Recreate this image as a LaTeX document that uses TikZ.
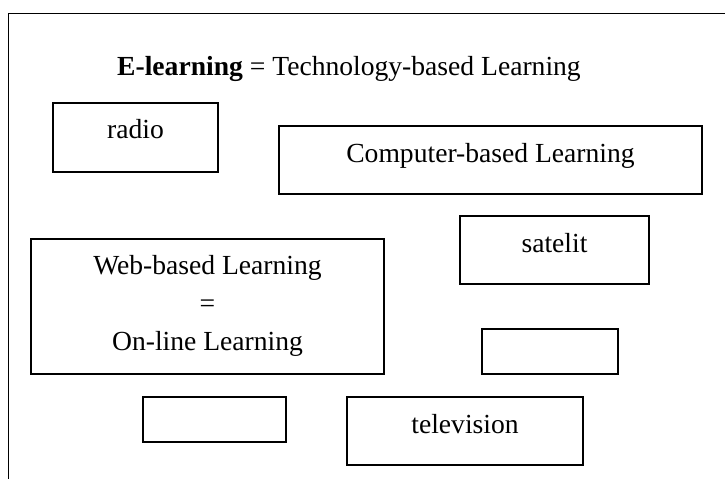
\documentclass[tikz,border=0pt]{standalone}
\usepackage{fontspec}
\setmainfont{Liberation Serif}
\begin{document}
\begin{tikzpicture}[x=1pt,y=-1pt,
  boxnode/.style={draw=black, line width=1.1pt, rectangle, inner sep=0pt, fill=none},
  txt/.style={anchor=base, inner sep=0pt, font=\fontsize{27.6}{38}\selectfont},
  framed/.style={draw=black, line width=1pt}]
\useasboundingbox (0,0) rectangle (725,479);
% frame (top and left edges only visible)
\coordinate (fTL) at (8,13);
\coordinate (fTR) at (725,13);
\coordinate (fBL) at (8,479);
\draw[framed] (fTR) -- (fTL) -- (fBL);
% title
\node[txt, anchor=base west] (title) at (117,75) {\textbf{E-learning} = Technology-based Learning};
% boxes
\node[boxnode, minimum width=165pt, minimum height=69pt] (radio) at (135.5,137.5) {};
\node[txt] (radioT) at (135.5,138) {radio};
\node[boxnode, minimum width=423pt, minimum height=68pt] (cbl) at (490.5,160) {};
\node[txt] (cblT) at (490.5,162) {Computer-based Learning};
\node[boxnode, minimum width=189pt, minimum height=68pt] (sat) at (554.5,250) {};
\node[txt] (satT) at (554.5,252) {satelit};
\node[boxnode, minimum width=353pt, minimum height=135pt] (web) at (207.5,306.5) {};
\node[txt] (webA) at (207.5,274) {Web-based Learning};
\node[txt] (webB) at (207.5,312) {=};
\node[txt] (webC) at (207.5,350) {On-line Learning};
\node[boxnode, minimum width=136pt, minimum height=45pt] (emptyR) at (550,351.5) {};
\node[boxnode, minimum width=143pt, minimum height=45pt] (emptyL) at (214.5,419.5) {};
\node[boxnode, minimum width=236pt, minimum height=68pt] (tv) at (465,431) {};
\node[txt] (tvT) at (465,433) {television};
\end{tikzpicture}
\end{document}
